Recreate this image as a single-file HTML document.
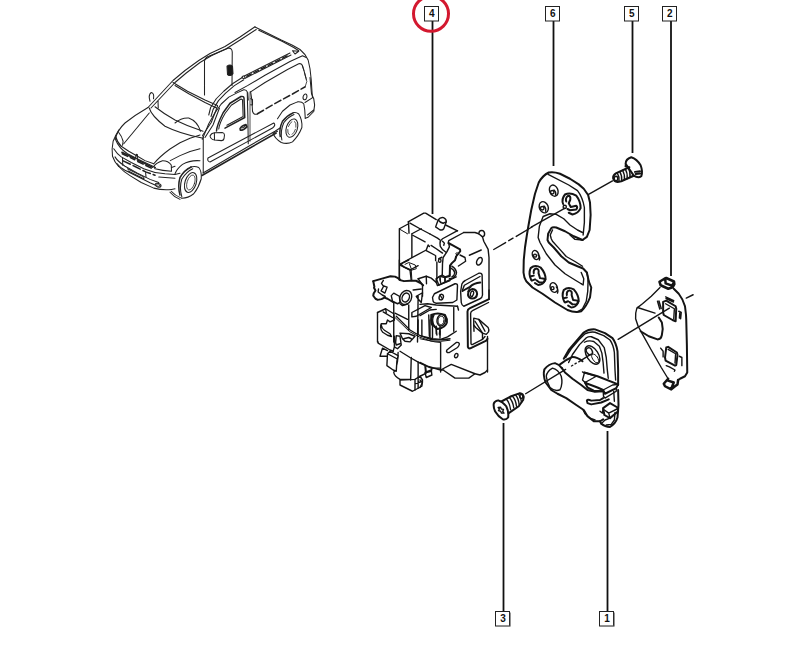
<!DOCTYPE html>
<html><head><meta charset="utf-8"><title>Diagram</title>
<style>
html,body{margin:0;padding:0;background:#fff;}
body{width:800px;height:656px;overflow:hidden;position:relative;font-family:"Liberation Sans",sans-serif;}
svg{position:absolute;left:0;top:0;}
.k{fill:none;stroke:#111;stroke-width:1;stroke-linecap:round;stroke-linejoin:round;}
.z path,.z polyline,.z line,.z ellipse,.z circle,.z rect{fill:none;stroke:#141414;stroke-width:1.4;stroke-linecap:round;stroke-linejoin:round;vector-effect:non-scaling-stroke;}
.z.v path,.z.v ellipse,.z.v circle{stroke-width:1.05;stroke:#222;}
.z.v .b{stroke-width:1.5;}
.z.v .t{stroke-width:.8;}
.z .w{fill:#fff;}
.z .t{stroke-width:1;}
.z .b{stroke-width:2;}
.z .f{fill:#1a1a1a;}
.z .bb{stroke-width:2.5;}
.lbl rect{fill:#fff;stroke:#222;stroke-width:1;}
.lbl text{font-family:"Liberation Sans",sans-serif;font-weight:bold;font-size:10px;fill:#111;text-anchor:middle;}
.ld{stroke:#111;stroke-width:1.8;fill:none;}
</style></head><body>
<svg width="800" height="656" viewBox="0 0 800 656">
<!-- LEADERS -->
<g class="ld">
<line x1="432.5" y1="21" x2="432.5" y2="214"/>
<line x1="553.5" y1="21" x2="553.5" y2="166"/>
<line x1="632.5" y1="21" x2="632.5" y2="153"/>
<line x1="671" y1="21" x2="671" y2="276"/>
<line x1="503.5" y1="423" x2="503.5" y2="611"/>
<line x1="607.5" y1="431" x2="607.5" y2="611"/>
</g>
<!-- LABELS -->
<g class="lbl">
<rect x="424.5" y="6.5" width="14" height="14.5"/><text x="431.7" y="16.9">4</text>
<rect x="545.5" y="6.5" width="14" height="14.5"/><text x="552.7" y="16.9">6</text>
<rect x="624.5" y="6.5" width="14" height="14.5"/><text x="631.7" y="16.9">5</text>
<rect x="662.5" y="6.5" width="14" height="14.5"/><text x="669.7" y="16.9">2</text>
<rect x="495.5" y="611.5" width="14" height="14.5"/><text x="503.1" y="622">3</text>
<rect x="599.5" y="611.5" width="14" height="14.5"/><text x="607.1" y="622">1</text>
<path d="M510.4,612.5 V626.3 H496" fill="none" stroke="#888" stroke-width="1"/><path d="M614.4,612.5 V626.3 H600" fill="none" stroke="#888" stroke-width="1"/>
</g>
<circle cx="431" cy="13.8" r="17.5" fill="none" stroke="#d3182f" stroke-width="3"/>
<!-- VAN -->
<g class="z v" id="van" transform="translate(100,20) scale(.25)">
<!-- roof left edge + A pillar left -->
<path d="M192,350 L240,298 L292,242 L340,202 L395,162 L440,134 L500,106 L560,68 L620,27"/>
<path d="M204,352 L300,250 L345,212 L400,170 L445,143 L505,115 L565,77 L625,38"/>
<!-- windshield top -->
<path d="M292,250 L350,285 L420,320 L470,342"/>
<path d="M300,262 L355,295 L420,330 L466,352"/>
<!-- A pillar right -->
<path d="M470,345 L445,410 L410,462"/>
<path d="M478,352 L452,420 L420,470"/>
<!-- windshield bottom -->
<path d="M220,347 Q255,375 300,400 Q350,425 412,445"/>
<path d="M197,352 Q205,382 260,425 Q320,455 408,472"/>
<!-- steering wheel arc -->
<path d="M300,412 Q325,390 355,392 Q390,405 402,445"/>
<!-- small tick on left pillar -->
<path d="M232,325 L233,352"/>
<!-- roof cutaway panel -->
<path d="M418,300 L418,165 Q420,150 435,145 L512,113 Q528,110 529,128 L528,262"/>
<path class="f" d="M508,185 Q520,175 530,185 L532,215 Q522,228 510,218 Z"/>
<!-- left mirror -->
<path d="M200,325 Q192,300 205,290 Q218,292 214,315"/>
<!-- hood -->
<path d="M192,350 Q140,380 100,412 Q70,440 60,478"/>
<path d="M197,372 L95,495"/>
<path d="M62,478 Q75,512 110,535 Q160,562 222,590"/>
<!-- door front edge -->
<path d="M413,465 L413,612"/>
<!-- sill -->
<path d="M412,612 L600,502 L700,445 L720,432"/>
<path class="b" d="M408,622 L600,512 L705,452"/>
<!-- side molding -->
<path d="M432,552 Q428,565 440,568 L690,432 Q705,420 695,412 L445,545 Z"/>
</g>
<g class="z v" id="van-door" transform="translate(200,80) scale(.125)">
<path d="M18,475 L70,350 L120,262 L170,192 L230,137 L300,101 L350,78 Q372,76 378,95 L383,300 L386,510"/>
<path class="b" d="M132,408 Q135,360 185,262 L240,186 L328,132 Q350,128 352,145 L358,300 L200,385"/>
<path d="M150,392 Q155,345 200,268 L250,202 L328,152 L340,158 L345,292 L215,362"/>
<path class="w" d="M80,448 Q90,425 115,422 L178,420 Q195,422 196,440 L192,470 Q188,486 170,485 L118,480 Q85,475 80,448 Z"/>
<path d="M115,425 L116,478"/>
<path class="b" d="M320,388 Q332,366 368,356 L376,375 Q350,402 322,402 Z"/>
<path d="M335,385 L360,372"/>
<path class="t" d="M400,95 L400,490"/>
<path d="M405,150 L420,155 L420,200 L405,198"/>
</g>
<g class="z v" id="van-rear" transform="translate(240,40) scale(.125)">
<!-- roof rear edge -->
<path d="M120,-104 L330,0 L420,42 L480,76 Q520,108 545,160 L560,230 L570,320 L575,400 L580,462"/>
<path d="M150,-78 L340,12 L430,60 L470,86"/>
<path d="M420,86 L470,90 L440,112 Z"/>
<!-- roof bar -->
<path d="M30,290 L400,104 M38,308 L408,120"/>
<path class="b" stroke-dasharray="5 3" d="M55,290 L395,118"/>
<ellipse cx="28" cy="298" rx="12" ry="10" class="w"/>
<!-- rail to A pillar -->
<path d="M18,300 L-60,350 L-130,410 L-190,470 L-235,540 L-250,600"/>
<path d="M30,318 L-45,365 L-115,425 L-172,485 L-215,555 L-232,612"/>
<!-- line below roof bar -->
<path d="M-40,420 L60,365 L200,282 L400,172 L500,126 L530,140"/>
<!-- cargo panel -->
<path d="M85,415 L200,340 L380,236 L470,190 Q490,186 497,200 L512,245 L532,322"/>
<path d="M85,415 L95,480 L100,570 Q108,602 140,592"/>
<path class="b" stroke-dasharray="7 3" d="M140,590 L300,497 L420,432 L522,374"/>
<path class="t" stroke-dasharray="5 3" d="M500,205 L535,330 L522,372"/>
<path d="M62,420 L66,480"/>
<!-- taillight -->
<ellipse cx="520" cy="455" rx="15" ry="23" transform="rotate(15 520 455)"/>
<!-- rear corner/bumper -->
<path d="M560,300 L572,430 L590,470 Q604,520 590,572 L545,618 L522,626"/>
<path d="M575,465 L520,500 M590,560 L540,600"/>
<!-- wheel arch -->
<path d="M300,630 L340,570 L400,520 L460,495 Q495,492 510,510 L518,560 L522,626"/>
</g>
<g class="z v" id="van-rwheel" transform="translate(240,90) scale(.125)">
<path d="M265,345 Q275,385 330,420 Q380,436 420,415 Q470,365 495,300 Q500,240 470,192 Q450,176 425,182"/>
<path class="b" d="M322,372 Q310,312 340,250 Q375,205 425,183"/>
<path d="M335,400 Q320,330 350,262 Q385,215 432,196"/>
<ellipse cx="415" cy="305" rx="44" ry="76" transform="rotate(18 415 305)"/>
<ellipse class="t" cx="415" cy="305" rx="30" ry="58" transform="rotate(18 415 305)" stroke-dasharray="6 3"/>
<path d="M265,345 L300,330"/>
</g>
<g class="z v" id="van-front" transform="translate(100,130) scale(.125)">
<path d="M150,0 Q125,40 105,90 Q92,150 100,210 Q118,262 150,292"/>
<path d="M150,20 Q175,50 185,90 L180,122 M125,50 Q138,100 170,130"/>
<path d="M170,130 L230,170 L300,210 L360,245 L430,270"/>
<!-- grille bands -->
<path class="b" d="M175,178 L275,226 M300,240 L420,298"/>
<path class="b" stroke-dasharray="6 3" d="M178,190 L278,238 M302,252 L420,310"/>
<path d="M282,232 L290,195 L300,198 L298,240"/>
<path d="M110,150 Q135,190 170,215 L250,260 L350,310 L440,340"/>
<path class="b" stroke-dasharray="8 3" d="M185,247 L280,292 L370,337 L440,362"/>
<path d="M180,225 L182,282 M365,340 L368,378"/>
<path d="M120,215 Q140,250 200,290 L300,345 L400,395 L470,420"/>
<path d="M220,310 L350,375 L352,392 M225,328 L345,388"/>
<path d="M135,268 Q160,300 200,322 L300,372 L400,422 L440,440"/>
<ellipse cx="465" cy="442" rx="24" ry="14" transform="rotate(20 465 442)"/>
<ellipse class="t" cx="465" cy="442" rx="14" ry="8" transform="rotate(20 465 442)"/>
<path d="M150,292 Q190,335 240,365 L330,420 L430,465 Q500,484 572,476"/>
<!-- right headlight -->
<path d="M430,292 Q445,265 500,246 Q545,245 570,280 L572,330 Q500,326 440,310 Z"/>
<path d="M440,340 L520,350 L600,356 L640,346 M470,376 L600,386"/>
<path d="M572,300 L600,290"/>
<!-- hood right edge & fender -->
<path d="M430,270 Q480,210 560,152 L640,102 L720,66 L800,40"/>
<path d="M562,245 L640,205 L720,172 L800,150"/>
<!-- wheel arch -->
<path d="M600,350 Q615,310 660,275 Q720,240 800,246"/>
<!-- tire -->
<path d="M570,490 Q600,525 650,545 Q700,548 750,510 Q790,460 810,390 Q815,330 790,300 Q760,285 725,296"/>
<path class="b" d="M640,520 Q620,450 640,380 Q675,320 730,296"/>
<path d="M655,535 Q632,460 655,392 Q690,335 742,310"/>
<ellipse cx="725" cy="420" rx="45" ry="82" transform="rotate(18 725 420)"/>
<ellipse class="t" cx="727" cy="420" rx="30" ry="62" transform="rotate(18 727 420)"/>
<path d="M572,476 L600,470 M560,498 Q590,535 640,555"/>
</g>
<!-- LATCH -->
<g class="z" id="latch1" transform="translate(380,195) scale(.125)">
<path d="M225,215 L350,145 L365,145 L450,197 M525,240 L620,287"/>
<path d="M228,215 L232,305 M155,270 L225,232 M155,270 L155,680"/>
<path class="t" stroke-dasharray="10 6" d="M160,275 L220,310"/>
<path d="M240,225 L320,270 L400,312"/>
<path stroke-dasharray="14 7" d="M400,312 L460,345 L480,360"/>
<path d="M255,310 L330,270 M255,310 L255,500"/>
<path stroke-dasharray="14 7" d="M262,322 L380,385 L450,430 L500,465"/>
<path class="w" d="M445,255 L465,200 Q482,176 508,181 Q532,192 530,215 L510,270 Q498,286 478,278 Z"/>
<path d="M465,200 Q478,218 505,226 L530,215"/>
<path d="M165,550 L370,440 L385,400 L395,412"/>
<path stroke-dasharray="14 7" d="M370,445 L440,482"/>
<path d="M445,485 L445,525 M165,552 L190,575 L245,600"/>
<path class="t" d="M200,555 L230,540 L282,560 L290,590 L250,602 M235,550 L250,590 M250,600 L255,680"/>
</g>
<g class="z" id="latch2" transform="translate(420,220) scale(.125)">
<path d="M300,85 L180,150 Q160,165 160,185 L162,210 Q175,240 210,260"/>
<path d="M350,100 L230,165 L225,185 L245,197 M180,170 L195,185 L190,202"/>
<path d="M350,100 L440,100 L470,110"/>
<path class="w" d="M470,110 L475,92 Q485,80 505,86 Q522,98 515,125 L500,135 Z"/>
<path d="M500,135 L510,170 L545,235 L552,300 L552,635"/>
<path class="b" d="M230,185 L320,235 L322,250 L290,290 L280,322 L255,345 L240,365 L238,440"/>
<path d="M215,255 L185,300 L180,350 L178,440 M215,255 L235,215 L230,185"/>
<path class="t" d="M298,258 L285,272 L297,280 L283,294 L292,302"/>
<path d="M130,470 L150,455 L178,440 L200,455 L230,445 L240,440"/>
<path d="M255,370 Q285,385 292,420 Q290,450 262,465 L235,470 M248,385 Q272,398 278,422 Q276,445 255,455"/>
<ellipse cx="158" cy="325" rx="10" ry="14"/>
<path d="M150,310 L175,298 M135,335 L135,480 L150,520 L290,455 M160,470 L165,500 M200,458 L200,490"/>
<path stroke-dasharray="18 10" d="M320,280 L360,300 L365,330 L290,380 M395,282 L490,240"/>
<ellipse cx="475" cy="330" rx="20" ry="32" transform="rotate(28 475 330)"/>
<!-- keyhole -->
<path d="M330,660 L325,572 L335,512 Q345,492 362,484 L470,426 Q492,420 497,440 L500,600 Q498,622 480,630 L350,690 Q333,680 330,660 Z"/>
<path d="M340,560 L355,522 L480,452"/>
<path class="b" d="M340,568 L400,534 Q430,505 482,500"/>
<path class="b" d="M384,600 Q382,560 420,552 Q455,556 457,592 Q452,628 418,628 Q390,626 384,600 Z"/>
<ellipse cx="416" cy="590" rx="12" ry="22" transform="rotate(18 416 590)"/>
<path class="t" d="M380,570 L395,560 M385,555 L400,547 M392,543 L408,538"/>
<!-- bracket slot -->
<path d="M105,650 L100,620 L115,590 L280,510 Q300,508 300,525 L295,640 L262,660 L130,666 Q108,662 105,650 Z"/>
<ellipse cx="170" cy="617" rx="17" ry="23" transform="rotate(15 170 617)"/>
<path d="M160,600 L180,632"/>
<!-- leader dashed -->
</g>
<g class="z" id="latch4" transform="translate(350,260) scale(.125)">
<path d="M395,0 L395,160 M400,40 L420,25 L470,0 M400,40 L480,80 L545,45 M480,80 L490,165"/>

<path class="b" d="M186,169 L270,145 L324,130 L360,133 L384,145 L408,163 L432,169 L480,166 L528,166 L564,184 L585,202"/>
<path class="b" d="M186,169 L195,214 L192,222 L204,244 L189,268 L186,286 L204,310 L222,319 L252,313 L276,301 L300,310 L330,328 L350,340"/>
<path d="M267,163 L252,187 L264,205 M270,208 L297,217 L279,265 L249,247 Z M228,232 L225,256 L258,280 L282,292"/>
<path d="M330,285 L350,265 L395,290 L400,340 L380,350 L340,330 Z"/>
<ellipse cx="446" cy="300" rx="46" ry="58" transform="rotate(25 446 300)"/>
<ellipse cx="446" cy="300" rx="28" ry="37" transform="rotate(25 446 300)"/>
<path d="M400,350 L420,365 L460,352"/>
<path stroke-dasharray="14 8" d="M505,240 L570,232"/>
<path d="M545,150 L610,130 L650,145 L690,180 L690,150 L720,130 L760,140 L800,130"/>
<path d="M545,150 L580,200 L580,290 M690,180 L700,205 L800,165 M610,130 L612,190 M720,132 L722,165 M760,140 L760,180"/>
<path d="M530,290 L580,262 L570,340 L545,312 Z M545,290 L540,656"/>
<path d="M350,345 L350,656 M470,360 L470,560"/>
<path d="M495,420 L600,365 L650,380 L530,450 L495,455 Z"/>
<path d="M560,445 L640,400 L690,395"/>
<path d="M220,420 L285,390 L350,430 L355,480 L320,495 L300,480 L290,510 L250,510 L245,530"/>
<path d="M220,420 L220,656 M265,415 L340,460 M285,390 L290,420"/>
<path d="M250,520 Q255,550 275,562 L320,590 L332,612 L300,602 L262,578 Q245,560 245,535"/>
<path d="M370,450 Q420,500 480,560 Q560,612 650,636 Q720,645 800,630"/><path class="t" d="M362,462 Q415,512 475,572 Q555,625 648,648 Q720,657 800,642"/>
<path stroke-dasharray="14 7" d="M360,425 L460,475"/>
<!-- coil -->
<path class="b" d="M650,440 Q700,415 760,440 Q780,470 775,500 Q765,540 700,552 Q660,530 650,470 Z"/>
<ellipse cx="730" cy="482" rx="34" ry="46" transform="rotate(10 730 482)"/>
<ellipse class="t" cx="728" cy="484" rx="24" ry="34" transform="rotate(10 728 484)"/>
<path d="M690,550 L695,600 M720,552 L715,592 M660,445 Q640,480 655,520 M672,440 Q652,480 668,525"/>
</g>
<g class="z" id="latch3" transform="translate(420,290) scale(.125)">
<path d="M552,0 L552,75"/>
<path class="b" d="M548,75 L400,145 Q380,155 380,172 L383,455 Q388,470 402,467 L530,405 L540,390"/>
<path d="M548,100 L420,165 Q405,172 405,188 L408,430 Q412,440 422,435 L500,395 L520,372"/>
<path d="M430,225 L470,235 L545,300 Q555,318 548,335 L530,355 L500,345 L445,300 L430,280 Z"/>
<path d="M440,250 L500,345 M470,235 L520,330 M500,345 L500,395 M430,280 L432,330"/>
<path d="M540,372 L540,656 M165,420 L165,656"/>
<path d="M0,115 L60,110 L130,120 L300,130"/>
<path stroke-dasharray="12 8" d="M300,130 L308,160"/>
<path d="M270,140 L270,330 M100,250 L100,385 M160,330 L160,385 M70,200 L75,370"/>
<path d="M0,365 L100,390 L165,395 L220,375 L290,330"/>
<path class="t" stroke-dasharray="30 12" d="M0,390 L120,415 L165,420"/>
<path d="M215,480 L290,420 Q312,415 315,432 Q312,450 300,460 L235,500 Q215,505 212,490 Z"/>
<ellipse cx="290" cy="525" rx="13" ry="18" transform="rotate(25 290 525)"/>
</g>
<g class="z" id="latch6" transform="translate(420,330) scale(.125)">
<path d="M540,320 L520,340 L480,360 L440,350 L250,275 L165,320"/>
<path d="M165,320 L190,320 M185,320 L280,385 L390,385 L440,350"/>
<path d="M0,260 L60,290 L165,320"/>
<path d="M45,295 L50,340 L90,330 L95,310 M0,370 L50,345 M0,400 L20,420 L0,460"/>
</g>
<g class="z" id="latch5" transform="translate(350,320) scale(.125)">
<path d="M225,176 L225,185 L320,240 L345,250"/>
<path d="M355,130 L355,215 L345,250 M370,125 L400,130 L410,200 L380,230 L355,215 M370,125 L365,180 L370,200 L400,190"/>
<path d="M400,105 L470,110 L520,130 L480,175 L440,170 L420,150 Z M430,150 L470,140 L490,150"/>
<path d="M545,0 L545,110 M575,0 L575,130 M640,0 L640,150 M690,50 L690,110 M720,50 L720,120"/>
<path d="M400,250 L480,300 L560,345 L650,385 L720,385"/>
<path d="M385,260 L380,330 Q360,400 350,420 Q355,450 400,475 L480,475"/>
<path d="M490,300 L485,480 M545,335 L545,460 M600,370 L605,420"/>
<path class="w" d="M300,270 L320,250 L385,285 L375,330 L370,410 L345,400 L295,365 Z"/>
<path d="M300,270 L375,310"/>
<path d="M240,290 L260,225 L300,245 M240,290 L295,290"/>
<path d="M400,480 L400,520 L500,570 L575,530 L580,480 L560,450 L520,475 Z"/>
<path d="M520,475 L520,560 M545,460 L545,545 M520,510 L580,490"/>
<path d="M600,420 L650,400 L655,440 L610,460 Z"/>
</g>
<!-- STRIKER -->
<g class="z" id="striker" transform="translate(515,160) scale(.125)">
<path class="b" d="M540,640 L575,615 L597,560 L605,440 L600,340 L585,280 L550,230 L510,195 L440,150 L360,110 Q310,92 270,100 Q220,125 190,180 L160,270 L130,400 L105,540 L95,600 L80,700 L70,800 L68,900 Q72,945 90,970 L140,1020 L220,1070 L320,1140 L420,1200 Q480,1225 530,1210 Q570,1175 600,1100 L610,1020 L590,970"/>
<path d="M265,115 L430,200 L500,245 Q540,295 555,380 L555,500 L545,600"/>
<path d="M575,900 L585,950 L582,1050 L570,1130 L540,1190 L500,1215"/>
<!-- slot inner edge -->
<path class="b" d="M540,640 L470,610 L400,570 L330,540 Q300,535 290,545 L265,590 L260,640 L270,660 L310,700 L370,770 L430,820 L500,850 L545,868 L575,900 L590,970"/>
<path d="M300,560 L282,600 L290,630 L300,650 L350,705 L410,772 L480,812 L540,850"/>
<path d="M540,580 L500,560 L440,520 L390,470 L330,435 L280,430 L225,452 L195,530 L185,620 L200,660 L250,750 L320,840 L400,910 L480,960 L530,990"/>
<path d="M440,600 L480,635 L540,640 M530,900 L550,950 L545,1000 L530,990"/>
<!-- holes -->
<ellipse cx="310" cy="245" rx="33" ry="46" transform="rotate(-22 310 245)"/>
<circle cx="298" cy="258" r="14"/><path d="M312,240 Q330,255 325,280"/>
<ellipse cx="230" cy="378" rx="35" ry="46" transform="rotate(-22 230 378)"/>
<circle cx="218" cy="386" r="14"/><path d="M232,368 Q250,385 245,410"/>
<path class="b" d="M385,352 Q370,312 400,276 Q440,255 490,285 Q525,330 525,385 Q505,428 460,436 L430,422"/>
<path class="b" d="M410,332 Q400,305 425,286 Q448,285 442,318 L430,346 L446,376 L490,366 Q504,378 490,396 L440,402 L420,392"/>
<circle cx="398" cy="375" r="13"/>
<ellipse cx="165" cy="760" rx="25" ry="38" transform="rotate(-20 165 760)"/>
<circle cx="160" cy="765" r="12"/><path d="M185,760 Q205,775 195,800"/>
<path class="b" d="M130,960 Q105,910 125,865 Q160,835 205,860 Q245,905 245,955 Q225,1000 185,1000 L160,985"/>
<path class="b" d="M150,905 Q145,875 170,868 Q195,872 188,905 L200,945 L235,950 Q242,965 230,978 L195,980 L172,962 M128,930 L150,925 M135,965 L160,955"/>
<ellipse cx="310" cy="1020" rx="28" ry="40" transform="rotate(-20 310 1020)"/>
<circle cx="300" cy="1025" r="12"/><path d="M330,1015 Q350,1035 340,1065"/>
<path class="b" d="M395,1135 Q370,1085 390,1040 Q425,1010 470,1035 Q510,1080 510,1130 Q490,1180 450,1180 L425,1165"/>
<path class="b" d="M415,1080 Q410,1050 435,1043 Q460,1047 453,1080 L465,1120 L500,1125 Q507,1140 495,1153 L460,1155 L437,1137 M393,1105 L415,1100 M400,1140 L425,1130"/>
<!-- leader through hole -->
<path d="M130,537 L400,385"/>
<path d="M585,277 L780,167"/>
</g>
<g class="z" id="leader46">
<path d="M493.75,249.5 L505.6,242.6 M508.75,240.7 L513,238.2 M516.25,236.4 L532,227"/>
</g>
<!-- SCREW5 -->
<g class="z" id="screw5" transform="translate(580,130) scale(.125)">
<path class="b w" d="M365,270 Q365,232 410,218 Q455,232 485,282 Q505,335 490,370 Q465,388 430,365 Z"/>
<path d="M365,270 L362,292 L395,300 M430,365 L415,372"/>
<path class="b" d="M395,298 L290,345 Q262,362 265,385 Q272,412 300,416 L330,410 L425,368"/>
<path d="M385,302 Q405,335 400,380 M362,312 Q382,345 377,390 M340,322 Q360,355 355,398 M318,333 Q338,365 333,408 M298,343 Q316,372 312,412"/>
<ellipse cx="288" cy="388" rx="14" ry="18"/>
<path class="b" d="M440,335 L480,330 M445,352 L482,348"/>
</g>
<!-- BRACKET -->
<g class="z" id="bracket1" transform="translate(620,265) scale(.125)">
<path class="bb" d="M316,134 L355,110 L370,104 L432,132 L435,153 L422,178 L386,190 L325,162 Z M362,114 L365,147 L416,165 L432,138"/>
<path class="b" d="M430,190 L470,230 Q505,275 520,330 L528,400 L530,440 L535,640 L538,860 L520,890 L480,910 L465,920"/>
<path d="M320,180 L250,250 L180,310 L135,345 Q122,380 125,430 L145,490 L175,545 L250,680 L330,820 L385,910"/>
<path d="M140,340 L280,385"/>
<path class="b" d="M165,530 L230,570 L300,595 Q328,595 335,560 Q348,510 335,460 L310,420"/>
<path class="b" d="M345,295 L370,285 L445,330 L450,350 L445,450 L420,440 L350,400 L345,380 Z"/>
<path d="M365,310 L435,350 L430,430"/>
<path d="M300,290 L318,352 M312,288 L330,348 M365,255 L430,285 M368,268 L428,296 M470,370 L490,380 L485,430 M478,385 L475,425"/>
<path class="b" d="M370,660 L385,655 L455,700 L460,720 L450,800 L440,805 L365,765 L360,740 Z"/>
<path d="M385,675 L445,710 L440,785"/>
<path d="M325,665 L345,690 L345,735 M475,730 L495,740 L495,805 M370,805 L395,815 L440,840 L435,850"/>
<path class="bb" d="M385,910 L350,950 L360,970 L410,995 L440,970 L460,955 L465,920 M385,925 L430,940 L410,990"/>
<path d="M530,265 L585,238"/>
</g>
<!-- HOUSING -->
<g class="z" id="housing" transform="translate(535,320) scale(.125)">
<path class="b" d="M230,310 L270,240 L330,170 L390,100 Q430,72 480,75 L560,105 L620,145 Q650,185 660,250 L665,400 L665,520 M665,560 L668,680 L660,780 Q645,830 600,855 Q560,855 530,830 L520,810"/>
<path d="M245,300 L290,230 L350,160 L400,110 Q440,92 480,98 L550,125 L600,160 Q628,200 635,260 L640,400 L645,480 M630,570 L635,650 M640,740 L635,800 L610,835 L570,840"/>
<path d="M269,340 L300,276 L356,197 L411,142 Q430,130 451,134 L506,158 L554,221 L570,300 L578,395 L586,466"/>
<path d="M395,178 Q430,160 470,172 L515,210 L535,265 L545,340 L552,425"/>
<ellipse cx="460" cy="280" rx="46" ry="82" transform="rotate(-33 460 280)"/>
<ellipse cx="435" cy="250" rx="22" ry="30" transform="rotate(-32 435 250)"/>
<ellipse class="t" cx="482" cy="308" rx="20" ry="40" transform="rotate(-33 482 308)"/>
<!-- tube -->
<path class="b" d="M215,385 Q195,355 160,345 Q110,350 75,395 Q62,440 85,500 L130,560 L180,590 L250,625 L330,680 L390,720 L420,770 L470,810 L520,810 L545,795"/>
<path d="M90,450 Q95,410 140,385 Q185,395 210,450 Q225,510 200,558 Q160,575 120,540 Q95,495 90,450 Z"/>
<path class="b" d="M200,355 L250,320 L300,295 Q340,295 380,330"/>
<path class="b" d="M215,385 L240,420 L300,470 L370,520 L420,560 L480,575 L540,570"/>
<path d="M380,415 L395,425 L380,480 L400,500 L490,450 L395,420"/>
<path class="b" d="M395,420 L500,450 L665,515 L650,545 L560,590 L545,560 L500,540 L420,510 L400,500"/>
<path d="M545,560 L620,520 L665,515 M545,560 L548,610 L560,625 L650,570 L650,545"/>
<path class="b" d="M400,500 L420,540 L470,565 L540,570"/>
<!-- lower clip -->
<path class="b" d="M415,645 Q420,632 450,645 L520,640 L545,625 M415,645 L420,665 L450,675 L530,660 L590,635"/>
<path class="b" d="M545,705 L600,665 L660,700 L665,730 L600,785 L555,760 Z"/>
<path d="M555,720 L590,745 L660,710 M590,745 L600,785 M520,730 L540,745 L545,705"/>
<path d="M385,720 L400,750 L440,785 L480,800 M530,830 L560,800 L600,785"/>
<!-- leaders -->
<path d="M-75,590 L245,395 M350,335 L445,275"/>
<path d="M292,368 L302,362 M320,351 L330,345"/>
<path d="M665,155 L1075,-95"/>
</g>
<!-- SCREW3 -->
<g class="z" id="screw3" transform="translate(470,370) scale(.125)">
<path class="b w" d="M190,270 Q195,248 225,243 Q260,252 290,290 Q312,335 305,380 Q290,400 262,394 Q225,372 200,330 Q186,295 190,270 Z"/>
<path class="b" d="M255,250 L330,210 L400,185 Q425,188 430,215 L425,240 L390,290 L310,345"/>
<path d="M290,232 Q318,262 325,318 M315,220 Q343,250 350,302 M340,210 Q366,238 372,290 M365,200 Q388,226 393,276 M388,192 Q408,215 412,258"/>
<ellipse cx="410" cy="212" rx="12" ry="16"/>
<path d="M225,300 L245,298 L250,312 L268,315 L262,332 L272,345 L252,345 L245,330 L228,325 L235,312 Z"/>
</g>
</svg>
</body></html>
